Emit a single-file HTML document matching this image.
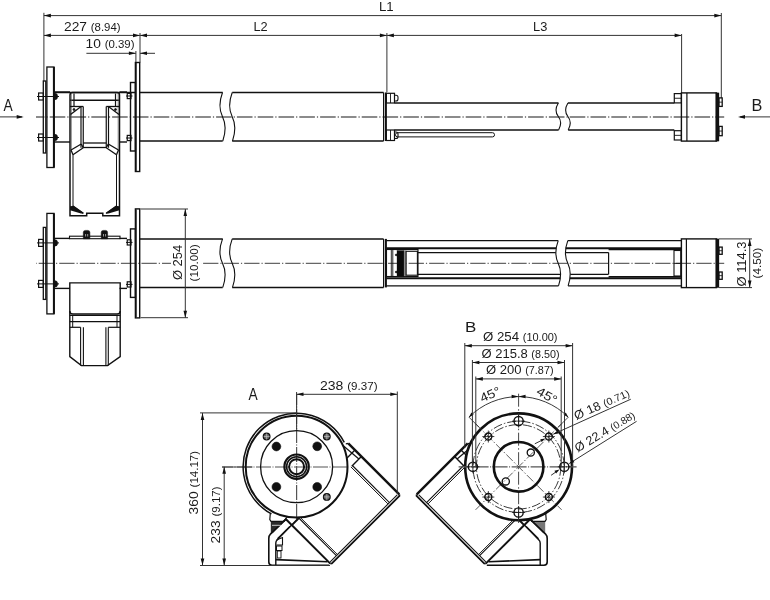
<!DOCTYPE html>
<html><head><meta charset="utf-8"><style>
html,body{margin:0;padding:0;background:#fff;}
svg{display:block;will-change:transform;font-family:"Liberation Sans",sans-serif;}
</style></head><body>
<svg width="770" height="600" viewBox="0 0 770 600" stroke-linecap="butt">
<line x1="43.90" y1="12.80" x2="43.90" y2="81.00" stroke="#333" stroke-width="1.0" />
<line x1="721.30" y1="13.00" x2="721.30" y2="98.00" stroke="#333" stroke-width="1.0" />
<line x1="43.90" y1="15.60" x2="721.30" y2="15.60" stroke="#333" stroke-width="1.0" />
<polygon points="43.90,15.60 50.90,13.80 50.90,17.40" fill="#111"/>
<polygon points="721.30,15.60 714.30,17.40 714.30,13.80" fill="#111"/>
<line x1="43.90" y1="35.40" x2="681.30" y2="35.40" stroke="#333" stroke-width="1.0" />
<polygon points="43.90,35.40 50.90,33.60 50.90,37.20" fill="#111"/>
<polygon points="140.00,35.40 133.00,37.20 133.00,33.60" fill="#111"/>
<polygon points="140.00,35.40 147.00,33.60 147.00,37.20" fill="#111"/>
<polygon points="386.90,35.40 379.90,37.20 379.90,33.60" fill="#111"/>
<polygon points="386.90,35.40 393.90,33.60 393.90,37.20" fill="#111"/>
<polygon points="681.60,35.40 674.60,37.20 674.60,33.60" fill="#111"/>
<line x1="140.00" y1="33.00" x2="140.00" y2="62.50" stroke="#333" stroke-width="1.0" />
<line x1="386.90" y1="33.00" x2="386.90" y2="92.00" stroke="#333" stroke-width="1.0" />
<line x1="681.60" y1="34.00" x2="681.60" y2="93.00" stroke="#333" stroke-width="1.0" />
<line x1="86.40" y1="53.30" x2="135.90" y2="53.30" stroke="#333" stroke-width="1.0" />
<polygon points="135.90,53.30 128.90,55.10 128.90,51.50" fill="#111"/>
<line x1="140.00" y1="53.30" x2="155.00" y2="53.30" stroke="#333" stroke-width="1.0" />
<polygon points="140.00,53.30 147.00,51.50 147.00,55.10" fill="#111"/>
<line x1="135.90" y1="51.00" x2="135.90" y2="62.50" stroke="#333" stroke-width="1.0" />
<line x1="0.00" y1="116.90" x2="22.00" y2="116.90" stroke="#333" stroke-width="1.0" />
<polygon points="23.70,116.90 16.70,118.70 16.70,115.10" fill="#111"/>
<line x1="740.00" y1="116.90" x2="770.00" y2="116.90" stroke="#333" stroke-width="1.0" />
<polygon points="738.00,116.90 745.00,115.10 745.00,118.70" fill="#111"/>
<line x1="36.00" y1="117.00" x2="724.20" y2="117.00" stroke="#666" stroke-width="1.3" stroke-dasharray="15.6 2 1.2 2" stroke-dashoffset="7.1"/>
<rect x="46.90" y="67.00" width="7.10" height="100.50" stroke="#111" stroke-width="1.3" fill="none" rx="0"/>
<line x1="53.90" y1="67.00" x2="53.90" y2="167.50" stroke="#111" stroke-width="2.0" />
<rect x="43.30" y="81.00" width="2.50" height="72.00" stroke="#111" stroke-width="1.3" fill="none" rx="0"/>
<rect x="38.60" y="93.00" width="4.70" height="7.00" stroke="#111" stroke-width="1.2" fill="none" rx="0"/>
<line x1="37.00" y1="96.50" x2="59.00" y2="96.50" stroke="#111" stroke-width="1.0" />
<path d="M54,93.3 h1 a2.6,3.2 0 0 1 0,6.4 h-1 Z" stroke="#111" stroke-width="0.6" fill="#111" />
<rect x="38.60" y="134.00" width="4.70" height="7.00" stroke="#111" stroke-width="1.2" fill="none" rx="0"/>
<line x1="37.00" y1="137.50" x2="59.00" y2="137.50" stroke="#111" stroke-width="1.0" />
<path d="M54,134.3 h1 a2.6,3.2 0 0 1 0,6.4 h-1 Z" stroke="#111" stroke-width="0.6" fill="#111" />
<line x1="54.00" y1="92.00" x2="70.00" y2="92.00" stroke="#111" stroke-width="1.4" />
<line x1="54.00" y1="142.00" x2="70.00" y2="142.00" stroke="#111" stroke-width="1.4" />
<line x1="119.50" y1="92.00" x2="127.00" y2="92.00" stroke="#111" stroke-width="1.4" />
<line x1="119.50" y1="142.00" x2="127.00" y2="142.00" stroke="#111" stroke-width="1.4" />
<rect x="135.40" y="62.50" width="4.30" height="109.00" stroke="#111" stroke-width="1.4" fill="none" rx="0"/>
<line x1="136.40" y1="63.00" x2="136.40" y2="171.00" stroke="#111" stroke-width="0.8" />
<rect x="130.50" y="82.50" width="4.90" height="68.50" stroke="#111" stroke-width="1.4" fill="none" rx="0"/>
<rect x="127.25" y="93.40" width="3.75" height="5.20" stroke="#111" stroke-width="1.2" fill="none" rx="0"/>
<line x1="126.00" y1="96.00" x2="132.50" y2="96.00" stroke="#111" stroke-width="1.0" />
<rect x="127.25" y="135.40" width="3.75" height="5.20" stroke="#111" stroke-width="1.2" fill="none" rx="0"/>
<line x1="126.00" y1="138.00" x2="132.50" y2="138.00" stroke="#111" stroke-width="1.0" />
<line x1="139.70" y1="92.50" x2="222.70" y2="92.50" stroke="#111" stroke-width="1.5" />
<line x1="232.20" y1="92.50" x2="383.60" y2="92.50" stroke="#111" stroke-width="1.5" />
<line x1="139.70" y1="141.00" x2="222.70" y2="141.00" stroke="#111" stroke-width="1.5" />
<line x1="232.20" y1="141.00" x2="383.60" y2="141.00" stroke="#111" stroke-width="1.5" />
<path d="M222.50,92.50 C218.90,102.20 218.90,109.47 222.50,116.75 S226.10,131.30 222.80,141.00" stroke="#111" stroke-width="1.1" fill="none" />
<path d="M232.20,92.50 C228.60,102.20 228.60,109.47 232.20,116.75 S235.80,131.30 232.50,141.00" stroke="#111" stroke-width="1.1" fill="none" />
<line x1="383.60" y1="92.50" x2="383.60" y2="141.00" stroke="#111" stroke-width="1.2" />
<line x1="385.90" y1="92.50" x2="385.90" y2="141.00" stroke="#111" stroke-width="2.0" />
<path d="M102.8,213.3 V215.8 H119.5 V95 q0,-2.5 -2.5,-2.5 H72.5 q-2.5,0 -2.5,2.5 V215.8 H86.7 V213.3 Z" stroke="#111" stroke-width="1.5" fill="none" />
<line x1="54.00" y1="92.50" x2="135.00" y2="92.50" stroke="#111" stroke-width="1.6" />
<line x1="70.00" y1="100.25" x2="119.50" y2="100.25" stroke="#111" stroke-width="1.3" />
<line x1="74.00" y1="93.50" x2="74.00" y2="106.50" stroke="#111" stroke-width="1.2" />
<line x1="115.50" y1="93.50" x2="115.50" y2="106.50" stroke="#111" stroke-width="1.2" />
<line x1="71.30" y1="93.50" x2="71.30" y2="150.00" stroke="#555" stroke-width="0.7" />
<line x1="118.20" y1="93.50" x2="118.20" y2="150.00" stroke="#555" stroke-width="0.7" />
<line x1="70.00" y1="106.50" x2="83.25" y2="106.50" stroke="#111" stroke-width="1.3" />
<line x1="106.25" y1="106.50" x2="119.50" y2="106.50" stroke="#111" stroke-width="1.3" />
<line x1="81.00" y1="106.50" x2="81.00" y2="147.75" stroke="#111" stroke-width="1.2" />
<line x1="108.50" y1="106.50" x2="108.50" y2="147.75" stroke="#111" stroke-width="1.2" />
<line x1="83.25" y1="106.50" x2="83.25" y2="147.75" stroke="#111" stroke-width="1.2" />
<line x1="106.25" y1="106.50" x2="106.25" y2="147.75" stroke="#111" stroke-width="1.2" />
<line x1="83.25" y1="143.00" x2="106.25" y2="143.00" stroke="#111" stroke-width="1.3" />
<line x1="83.25" y1="147.50" x2="106.25" y2="147.50" stroke="#111" stroke-width="1.3" />
<line x1="70.50" y1="114.50" x2="80.75" y2="106.75" stroke="#111" stroke-width="1.3" />
<line x1="119.00" y1="114.50" x2="108.75" y2="106.75" stroke="#111" stroke-width="1.3" />
<line x1="71.00" y1="150.00" x2="81.25" y2="144.00" stroke="#111" stroke-width="1.3" />
<line x1="118.50" y1="150.00" x2="108.25" y2="144.00" stroke="#111" stroke-width="1.3" />
<line x1="73.00" y1="154.75" x2="83.25" y2="147.75" stroke="#111" stroke-width="1.3" />
<line x1="116.50" y1="154.75" x2="106.25" y2="147.75" stroke="#111" stroke-width="1.3" />
<line x1="81.25" y1="144.00" x2="83.25" y2="147.75" stroke="#111" stroke-width="1.3" />
<line x1="108.25" y1="144.00" x2="106.25" y2="147.75" stroke="#111" stroke-width="1.3" />
<line x1="71.00" y1="150.00" x2="73.00" y2="154.75" stroke="#111" stroke-width="1.3" />
<line x1="118.50" y1="150.00" x2="116.50" y2="154.75" stroke="#111" stroke-width="1.3" />
<circle cx="74.00" cy="109.50" r="1.00" stroke="#111" stroke-width="0.8" fill="#111" />
<circle cx="115.50" cy="109.50" r="1.00" stroke="#111" stroke-width="0.8" fill="#111" />
<line x1="73.00" y1="154.75" x2="73.00" y2="206.00" stroke="#111" stroke-width="1.0" />
<line x1="116.50" y1="154.75" x2="116.50" y2="206.00" stroke="#111" stroke-width="1.0" />
<line x1="73.00" y1="206.00" x2="83.30" y2="213.30" stroke="#111" stroke-width="1.5" />
<line x1="116.50" y1="206.00" x2="106.20" y2="213.30" stroke="#111" stroke-width="1.5" />
<polygon points="70.00,206.5 73.30,205.8 84.00,213.3 81.00,213.6 70.00,210.3" fill="#111"/>
<line x1="70.00" y1="207.00" x2="73.30" y2="207.00" stroke="#111" stroke-width="1.0" />
<polygon points="119.50,206.5 116.20,205.8 105.50,213.3 108.50,213.6 119.50,210.3" fill="#111"/>
<line x1="119.50" y1="207.00" x2="116.20" y2="207.00" stroke="#111" stroke-width="1.0" />
<rect x="386.40" y="93.30" width="8.10" height="9.70" stroke="#111" stroke-width="1.2" fill="none" rx="0"/>
<line x1="390.50" y1="93.30" x2="390.50" y2="103.00" stroke="#111" stroke-width="0.9" />
<path d="M394.5,95.3 h1.5 a2,2 0 0 1 2,2 v1.7000000000000028 a2,2 0 0 1 -2,2 h-1.5" stroke="#111" stroke-width="1.1" fill="none" />
<rect x="386.40" y="130.00" width="8.10" height="10.50" stroke="#111" stroke-width="1.2" fill="none" rx="0"/>
<line x1="390.50" y1="130.00" x2="390.50" y2="140.50" stroke="#111" stroke-width="0.9" />
<path d="M394.5,132 h1.5 a2,2 0 0 1 2,2 v2.5 a2,2 0 0 1 -2,2 h-1.5" stroke="#111" stroke-width="1.1" fill="none" />
<line x1="394.50" y1="103.00" x2="558.50" y2="103.00" stroke="#111" stroke-width="1.4" />
<line x1="567.90" y1="103.00" x2="674.30" y2="103.00" stroke="#111" stroke-width="1.4" />
<line x1="394.50" y1="130.00" x2="558.60" y2="130.00" stroke="#111" stroke-width="1.4" />
<line x1="568.20" y1="130.00" x2="674.30" y2="130.00" stroke="#111" stroke-width="1.4" />
<path d="M558.30,103.00 C555.10,108.40 555.10,112.45 558.30,116.50 S561.50,124.60 558.60,130.00" stroke="#111" stroke-width="1.1" fill="none" />
<path d="M567.90,103.00 C564.70,108.40 564.70,112.45 567.90,116.50 S571.10,124.60 568.20,130.00" stroke="#111" stroke-width="1.1" fill="none" />
<rect x="395.50" y="132.70" width="99.00" height="4.20" stroke="#111" stroke-width="1.0" fill="none" rx="2"/>
<rect x="681.40" y="92.90" width="35.10" height="48.20" stroke="#111" stroke-width="1.4" fill="none" rx="0"/>
<rect x="715.80" y="92.90" width="3.20" height="48.20" stroke="#111" stroke-width="0.3" fill="#111" rx="0"/>
<line x1="686.90" y1="92.90" x2="686.90" y2="141.10" stroke="#111" stroke-width="1.2" />
<rect x="674.30" y="93.60" width="7.10" height="9.30" stroke="#111" stroke-width="1.2" fill="none" rx="0"/>
<line x1="674.30" y1="98.25" x2="681.40" y2="98.25" stroke="#111" stroke-width="0.9" />
<rect x="674.30" y="130.70" width="7.10" height="9.30" stroke="#111" stroke-width="1.2" fill="none" rx="0"/>
<line x1="674.30" y1="135.35" x2="681.40" y2="135.35" stroke="#111" stroke-width="0.9" />
<rect x="719.00" y="97.90" width="3.20" height="8.50" stroke="#111" stroke-width="1.3" fill="none" rx="0"/>
<line x1="719.00" y1="102.15" x2="722.20" y2="102.15" stroke="#111" stroke-width="0.8" />
<rect x="719.00" y="126.40" width="3.20" height="9.30" stroke="#111" stroke-width="1.3" fill="none" rx="0"/>
<line x1="719.00" y1="131.05" x2="722.20" y2="131.05" stroke="#111" stroke-width="0.8" />
<line x1="36.00" y1="263.40" x2="724.20" y2="263.40" stroke="#666" stroke-width="1.3" stroke-dasharray="15.3 2 1.2 2.05" stroke-dashoffset="17.85"/>
<rect x="46.90" y="213.40" width="7.10" height="100.50" stroke="#111" stroke-width="1.3" fill="none" rx="0"/>
<line x1="53.90" y1="213.40" x2="53.90" y2="313.90" stroke="#111" stroke-width="2.0" />
<rect x="43.30" y="227.40" width="2.50" height="72.00" stroke="#111" stroke-width="1.3" fill="none" rx="0"/>
<rect x="38.60" y="239.40" width="4.70" height="7.00" stroke="#111" stroke-width="1.2" fill="none" rx="0"/>
<line x1="37.00" y1="242.90" x2="59.00" y2="242.90" stroke="#111" stroke-width="1.0" />
<path d="M54,239.7 h1 a2.6,3.2 0 0 1 0,6.4 h-1 Z" stroke="#111" stroke-width="0.6" fill="#111" />
<rect x="38.60" y="280.40" width="4.70" height="7.00" stroke="#111" stroke-width="1.2" fill="none" rx="0"/>
<line x1="37.00" y1="283.90" x2="59.00" y2="283.90" stroke="#111" stroke-width="1.0" />
<path d="M54,280.7 h1 a2.6,3.2 0 0 1 0,6.4 h-1 Z" stroke="#111" stroke-width="0.6" fill="#111" />
<line x1="54.00" y1="238.40" x2="70.00" y2="238.40" stroke="#111" stroke-width="1.4" />
<line x1="54.00" y1="288.40" x2="70.00" y2="288.40" stroke="#111" stroke-width="1.4" />
<line x1="119.50" y1="238.40" x2="127.00" y2="238.40" stroke="#111" stroke-width="1.4" />
<line x1="119.50" y1="288.40" x2="127.00" y2="288.40" stroke="#111" stroke-width="1.4" />
<rect x="135.40" y="208.90" width="4.30" height="109.00" stroke="#111" stroke-width="1.4" fill="none" rx="0"/>
<line x1="136.40" y1="209.40" x2="136.40" y2="317.40" stroke="#111" stroke-width="0.8" />
<rect x="130.50" y="228.90" width="4.90" height="68.50" stroke="#111" stroke-width="1.4" fill="none" rx="0"/>
<rect x="127.25" y="239.80" width="3.75" height="5.20" stroke="#111" stroke-width="1.2" fill="none" rx="0"/>
<line x1="126.00" y1="242.40" x2="132.50" y2="242.40" stroke="#111" stroke-width="1.0" />
<rect x="127.25" y="281.80" width="3.75" height="5.20" stroke="#111" stroke-width="1.2" fill="none" rx="0"/>
<line x1="126.00" y1="284.40" x2="132.50" y2="284.40" stroke="#111" stroke-width="1.0" />
<line x1="139.70" y1="238.90" x2="222.70" y2="238.90" stroke="#111" stroke-width="1.5" />
<line x1="232.20" y1="238.90" x2="383.60" y2="238.90" stroke="#111" stroke-width="1.5" />
<line x1="139.70" y1="287.40" x2="222.70" y2="287.40" stroke="#111" stroke-width="1.5" />
<line x1="232.20" y1="287.40" x2="383.60" y2="287.40" stroke="#111" stroke-width="1.5" />
<path d="M222.50,238.90 C218.90,248.60 218.90,255.87 222.50,263.15 S226.10,277.70 222.80,287.40" stroke="#111" stroke-width="1.1" fill="none" />
<path d="M232.20,238.90 C228.60,248.60 228.60,255.87 232.20,263.15 S235.80,277.70 232.50,287.40" stroke="#111" stroke-width="1.1" fill="none" />
<line x1="383.60" y1="238.90" x2="383.60" y2="287.40" stroke="#111" stroke-width="1.2" />
<line x1="385.90" y1="238.90" x2="385.90" y2="287.40" stroke="#111" stroke-width="2.0" />
<rect x="69.50" y="236.20" width="50.50" height="2.50" stroke="#111" stroke-width="1.1" fill="none" rx="0"/>
<path d="M83.3,238.8 V232.4 q0,-2 2,-2 h2.6000000000000085 q2,0 2,2 V238.8 Z" stroke="#111" stroke-width="0.5" fill="#111" />
<line x1="85.60" y1="234.00" x2="85.60" y2="236.50" stroke="#bbb" stroke-width="0.8" />
<line x1="87.70" y1="234.00" x2="87.70" y2="236.50" stroke="#bbb" stroke-width="0.8" />
<path d="M101.2,238.8 V232.4 q0,-2 2,-2 h2.3999999999999915 q2,0 2,2 V238.8 Z" stroke="#111" stroke-width="0.5" fill="#111" />
<line x1="103.50" y1="234.00" x2="103.50" y2="236.50" stroke="#bbb" stroke-width="0.8" />
<line x1="105.60" y1="234.00" x2="105.60" y2="236.50" stroke="#bbb" stroke-width="0.8" />
<path d="M69.8,282.9 H120.2 V311 q0,3 -3,3 H72.8 q-3,0 -3,-3 Z" stroke="#111" stroke-width="1.4" fill="none" />
<path d="M69.8,311 V356.6 L81.4,365.6 H107.5 L120.2,356.6 V311" stroke="#111" stroke-width="1.4" fill="none" />
<line x1="69.80" y1="315.40" x2="120.20" y2="315.40" stroke="#111" stroke-width="1.2" />
<line x1="69.80" y1="321.70" x2="120.20" y2="321.70" stroke="#111" stroke-width="1.2" />
<line x1="72.70" y1="315.40" x2="72.70" y2="327.30" stroke="#111" stroke-width="1.0" />
<line x1="117.00" y1="315.40" x2="117.00" y2="327.30" stroke="#111" stroke-width="1.0" />
<line x1="69.80" y1="327.30" x2="80.60" y2="327.30" stroke="#111" stroke-width="1.2" />
<line x1="108.30" y1="327.30" x2="120.20" y2="327.30" stroke="#111" stroke-width="1.2" />
<line x1="80.60" y1="327.30" x2="80.60" y2="365.60" stroke="#111" stroke-width="1.1" />
<line x1="83.40" y1="327.30" x2="83.40" y2="365.60" stroke="#111" stroke-width="1.1" />
<line x1="105.90" y1="327.30" x2="105.90" y2="365.60" stroke="#111" stroke-width="1.1" />
<line x1="108.30" y1="327.30" x2="108.30" y2="365.60" stroke="#111" stroke-width="1.1" />
<line x1="83.40" y1="327.30" x2="83.40" y2="327.30" stroke="#111" stroke-width="1.4" />
<line x1="386.20" y1="240.60" x2="558.20" y2="240.60" stroke="#111" stroke-width="1.3" />
<line x1="567.80" y1="240.60" x2="681.40" y2="240.60" stroke="#111" stroke-width="1.3" />
<line x1="386.20" y1="285.90" x2="558.50" y2="285.90" stroke="#111" stroke-width="1.3" />
<line x1="568.10" y1="285.90" x2="681.40" y2="285.90" stroke="#111" stroke-width="1.3" />
<line x1="386.20" y1="248.30" x2="556.10" y2="248.30" stroke="#111" stroke-width="2.0" />
<line x1="565.70" y1="248.30" x2="681.40" y2="248.30" stroke="#111" stroke-width="2.0" />
<line x1="386.20" y1="278.30" x2="560.38" y2="278.30" stroke="#111" stroke-width="2.0" />
<line x1="569.98" y1="278.30" x2="681.40" y2="278.30" stroke="#111" stroke-width="2.0" />
<line x1="418.00" y1="252.60" x2="555.73" y2="252.60" stroke="#111" stroke-width="1.2" />
<line x1="565.33" y1="252.60" x2="608.60" y2="252.60" stroke="#111" stroke-width="1.2" />
<line x1="418.00" y1="274.30" x2="560.71" y2="274.30" stroke="#111" stroke-width="1.2" />
<line x1="570.31" y1="274.30" x2="608.60" y2="274.30" stroke="#111" stroke-width="1.2" />
<line x1="608.60" y1="252.60" x2="608.60" y2="274.30" stroke="#111" stroke-width="1.2" />
<line x1="608.60" y1="249.60" x2="681.40" y2="249.60" stroke="#111" stroke-width="1.4" />
<line x1="608.60" y1="276.80" x2="681.40" y2="276.80" stroke="#111" stroke-width="1.4" />
<path d="M558.20,240.60 C554.90,249.66 554.90,256.45 558.20,263.25 S561.50,276.84 558.50,285.90" stroke="#111" stroke-width="1.1" fill="none" />
<path d="M567.80,240.60 C564.50,249.66 564.50,256.45 567.80,263.25 S571.10,276.84 568.10,285.90" stroke="#111" stroke-width="1.1" fill="none" />
<rect x="386.50" y="249.50" width="31.50" height="27.00" stroke="#111" stroke-width="1.1" fill="none" rx="0"/>
<line x1="391.30" y1="249.50" x2="391.30" y2="276.50" stroke="#111" stroke-width="0.9" />
<line x1="392.80" y1="249.50" x2="392.80" y2="276.50" stroke="#111" stroke-width="0.9" />
<rect x="397.00" y="250.50" width="7.00" height="25.50" stroke="#111" stroke-width="0.3" fill="#0a0a0a" rx="0"/>
<rect x="404.00" y="250.50" width="2.10" height="25.50" stroke="#888" stroke-width="0.2" fill="#888" rx="0"/>
<rect x="406.10" y="251.30" width="11.30" height="23.90" stroke="#111" stroke-width="1.1" fill="none" rx="0"/>
<circle cx="396.20" cy="254.90" r="0.90" stroke="#111" stroke-width="0.6" fill="#111" />
<circle cx="396.20" cy="272.00" r="0.90" stroke="#111" stroke-width="0.6" fill="#111" />
<rect x="674.00" y="250.50" width="6.75" height="25.50" stroke="#111" stroke-width="1.1" fill="none" rx="0"/>
<line x1="674.00" y1="263.40" x2="680.75" y2="263.40" stroke="#111" stroke-width="0.9" />
<rect x="681.40" y="238.90" width="35.10" height="48.70" stroke="#111" stroke-width="1.4" fill="none" rx="0"/>
<rect x="715.80" y="238.90" width="3.20" height="48.70" stroke="#111" stroke-width="0.3" fill="#111" rx="0"/>
<line x1="686.40" y1="238.90" x2="686.40" y2="287.60" stroke="#111" stroke-width="1.2" />
<rect x="719.00" y="247.10" width="3.20" height="7.20" stroke="#111" stroke-width="1.3" fill="none" rx="0"/>
<line x1="719.00" y1="250.70" x2="722.20" y2="250.70" stroke="#111" stroke-width="0.8" />
<rect x="719.00" y="272.00" width="3.20" height="7.30" stroke="#111" stroke-width="1.3" fill="none" rx="0"/>
<line x1="719.00" y1="275.65" x2="722.20" y2="275.65" stroke="#111" stroke-width="0.8" />
<line x1="140.50" y1="209.00" x2="188.00" y2="209.00" stroke="#333" stroke-width="1.0" />
<line x1="140.50" y1="317.70" x2="188.00" y2="317.70" stroke="#333" stroke-width="1.0" />
<rect x="171.00" y="243.00" width="30.00" height="40.00" stroke="none" stroke-width="0" fill="#fff" rx="0"/>
<line x1="185.30" y1="209.00" x2="185.30" y2="317.70" stroke="#333" stroke-width="1.0" />
<polygon points="185.30,209.00 187.10,216.00 183.50,216.00" fill="#111"/>
<polygon points="185.30,317.70 183.50,310.70 187.10,310.70" fill="#111"/>
<line x1="719.00" y1="238.90" x2="752.00" y2="238.90" stroke="#333" stroke-width="1.0" />
<line x1="719.00" y1="287.60" x2="752.00" y2="287.60" stroke="#333" stroke-width="1.0" />
<line x1="749.70" y1="238.90" x2="749.70" y2="287.60" stroke="#333" stroke-width="1.0" />
<polygon points="749.70,238.90 751.50,245.90 747.90,245.90" fill="#111"/>
<polygon points="749.70,287.60 747.90,280.60 751.50,280.60" fill="#111"/>
<text x="379.00" y="11.00" font-size="12.3" textLength="14.68" lengthAdjust="spacingAndGlyphs" fill="#1a1a1a">L1</text>
<text x="64.00" y="30.50" font-size="12.3" textLength="56.54" lengthAdjust="spacingAndGlyphs" fill="#1a1a1a">227 <tspan font-size="10.2">(8.94)</tspan></text>
<text x="253.50" y="31.00" font-size="12.3" textLength="14.20" lengthAdjust="spacingAndGlyphs" fill="#1a1a1a">L2</text>
<text x="533.00" y="30.50" font-size="12.3" textLength="14.27" lengthAdjust="spacingAndGlyphs" fill="#1a1a1a">L3</text>
<text x="85.50" y="48.00" font-size="12.3" textLength="49.03" lengthAdjust="spacingAndGlyphs" fill="#1a1a1a">10 <tspan font-size="10.2">(0.39)</tspan></text>
<text x="3.50" y="111.00" font-size="16" textLength="9.17" lengthAdjust="spacingAndGlyphs" fill="#1a1a1a">A</text>
<text x="751.50" y="110.50" font-size="16" textLength="10.83" lengthAdjust="spacingAndGlyphs" fill="#1a1a1a">B</text>
<text x="465.00" y="331.50" font-size="15" textLength="11.32" lengthAdjust="spacingAndGlyphs" fill="#1a1a1a">B</text>
<text x="483.00" y="340.50" font-size="12.3" textLength="74.51" lengthAdjust="spacingAndGlyphs" fill="#1a1a1a">Ø 254 <tspan font-size="10.2">(10.00)</tspan></text>
<text x="481.50" y="357.50" font-size="12.3" textLength="78.02" lengthAdjust="spacingAndGlyphs" fill="#1a1a1a">Ø 215.8 <tspan font-size="10.2">(8.50)</tspan></text>
<text x="486.00" y="374.00" font-size="12.3" textLength="67.53" lengthAdjust="spacingAndGlyphs" fill="#1a1a1a">Ø 200 <tspan font-size="10.2">(7.87)</tspan></text>
<text x="248.50" y="399.50" font-size="16" textLength="9.17" lengthAdjust="spacingAndGlyphs" fill="#1a1a1a">A</text>
<text x="320.00" y="390.00" font-size="12.3" textLength="57.56" lengthAdjust="spacingAndGlyphs" fill="#1a1a1a">238 <tspan font-size="10.2">(9.37)</tspan></text>
<text x="181.50" y="280.00" font-size="12.3" textLength="35.07" lengthAdjust="spacingAndGlyphs" fill="#1a1a1a" transform="rotate(-90 181.50 280.00)">Ø 254</text>
<text x="197.50" y="281.50" font-size="10.2" textLength="37.09" lengthAdjust="spacingAndGlyphs" fill="#1a1a1a" transform="rotate(-90 197.50 281.50)">(10.00)</text>
<text x="746.00" y="286.50" font-size="12.3" textLength="45.02" lengthAdjust="spacingAndGlyphs" fill="#1a1a1a" transform="rotate(-90 746.00 286.50)">Ø 114.3</text>
<text x="761.00" y="278.50" font-size="10.2" textLength="30.58" lengthAdjust="spacingAndGlyphs" fill="#1a1a1a" transform="rotate(-90 761.00 278.50)">(4.50)</text>
<text x="198.00" y="514.50" font-size="12.3" textLength="63.53" lengthAdjust="spacingAndGlyphs" fill="#1a1a1a" transform="rotate(-90 198.00 514.50)">360 <tspan font-size="10.2">(14.17)</tspan></text>
<text x="219.50" y="543.50" font-size="12.3" textLength="57.03" lengthAdjust="spacingAndGlyphs" fill="#1a1a1a" transform="rotate(-90 219.50 543.50)">233 <tspan font-size="10.2">(9.17)</tspan></text>
<line x1="222.00" y1="467.00" x2="347.00" y2="467.00" stroke="#555" stroke-width="1.2" stroke-dasharray="15 1.5 1 1.5" stroke-dashoffset="4"/>
<line x1="222.00" y1="467.00" x2="252.50" y2="467.00" stroke="#444" stroke-width="1.0" />
<line x1="296.60" y1="394.00" x2="296.60" y2="521.00" stroke="#555" stroke-width="1.2" stroke-dasharray="15 1.5 1 1.5" stroke-dashoffset="4"/>
<circle cx="296.60" cy="466.70" r="50.90" stroke="#111" stroke-width="2.0" fill="none" />
<path d="M271.48,513.94 A53.5,53.5 0 1 1 344.27,442.41" stroke="#111" stroke-width="1.5" fill="none" />
<circle cx="296.60" cy="466.70" r="36.00" stroke="#111" stroke-width="1.3" fill="none" />
<circle cx="296.60" cy="466.70" r="12.20" stroke="#111" stroke-width="2.2" fill="none" />
<circle cx="296.60" cy="466.70" r="10.00" stroke="#111" stroke-width="1.5" fill="none" />
<circle cx="296.60" cy="466.70" r="7.50" stroke="#111" stroke-width="2.0" fill="none" />
<circle cx="276.40" cy="446.50" r="4.40" stroke="#111" stroke-width="0.6" fill="#111" />
<circle cx="317.20" cy="446.30" r="4.40" stroke="#111" stroke-width="0.6" fill="#111" />
<circle cx="276.40" cy="486.90" r="4.40" stroke="#111" stroke-width="0.6" fill="#111" />
<circle cx="317.20" cy="486.90" r="4.40" stroke="#111" stroke-width="0.6" fill="#111" />
<circle cx="266.60" cy="436.50" r="3.30" stroke="#111" stroke-width="1.3" fill="#666" />
<line x1="263.60" y1="436.50" x2="269.60" y2="436.50" stroke="#ccc" stroke-width="0.6" />
<line x1="266.60" y1="433.50" x2="266.60" y2="439.50" stroke="#ccc" stroke-width="0.6" />
<circle cx="326.80" cy="436.50" r="3.30" stroke="#111" stroke-width="1.3" fill="#666" />
<line x1="323.80" y1="436.50" x2="329.80" y2="436.50" stroke="#ccc" stroke-width="0.6" />
<line x1="326.80" y1="433.50" x2="326.80" y2="439.50" stroke="#ccc" stroke-width="0.6" />
<circle cx="326.80" cy="496.90" r="3.30" stroke="#111" stroke-width="1.3" fill="#666" />
<line x1="323.80" y1="496.90" x2="329.80" y2="496.90" stroke="#ccc" stroke-width="0.6" />
<line x1="326.80" y1="493.90" x2="326.80" y2="499.90" stroke="#ccc" stroke-width="0.6" />
<line x1="348.29" y1="443.44" x2="399.27" y2="494.42" stroke="#111" stroke-width="2.4" />
<line x1="352.39" y1="465.50" x2="389.44" y2="502.55" stroke="#111" stroke-width="1.1" />
<line x1="350.98" y1="466.91" x2="388.03" y2="503.96" stroke="#111" stroke-width="1.0" />
<line x1="299.07" y1="518.25" x2="336.41" y2="555.58" stroke="#111" stroke-width="1.1" />
<line x1="300.14" y1="517.19" x2="337.47" y2="554.52" stroke="#111" stroke-width="0.9" />
<line x1="286.21" y1="519.52" x2="330.33" y2="563.64" stroke="#111" stroke-width="2.0" />
<polyline points="399.27,494.42 399.41,495.97 331.88,563.50 330.33,563.64" fill="none" stroke="#111" stroke-width="1.8"/>
<line x1="397.22" y1="494.77" x2="330.19" y2="561.81" stroke="#111" stroke-width="1.1" />
<line x1="351.75" y1="466.13" x2="361.37" y2="456.52" stroke="#111" stroke-width="1.4" />
<line x1="292.00" y1="525.32" x2="299.07" y2="518.25" stroke="#111" stroke-width="1.4" />
<line x1="343.27" y1="445.77" x2="358.90" y2="458.99" stroke="#111" stroke-width="1.2" />
<line x1="346.80" y1="458.21" x2="354.94" y2="450.08" stroke="#111" stroke-width="1.3" />
<line x1="345.81" y1="443.79" x2="348.29" y2="443.44" stroke="#111" stroke-width="1.3" />
<line x1="286.21" y1="518.53" x2="272.06" y2="532.67" stroke="#111" stroke-width="1.4" />
<line x1="289.88" y1="526.45" x2="277.51" y2="538.82" stroke="#111" stroke-width="1.4" />
<polygon points="270.8,521.4 283.6,521.4 270.8,533.8" fill="#2a2a2a"/>
<path d="M270.3,513.5 L269.8,519.5 L271,521.4 H284.2 L286.8,517.2" stroke="#111" stroke-width="1.2" fill="none" />
<path d="M286.6,518.6 L270.4,534.2 Q268.8,535.8 268.8,538.5 V562 Q268.8,565.2 272,565.2 H329.2" stroke="#111" stroke-width="1.6" fill="none" />
<path d="M299.2,517.3 L277.3,539.8 Q275.8,541.3 275.8,543 V565" stroke="#111" stroke-width="1.4" fill="none" />
<line x1="275.80" y1="559.60" x2="327.50" y2="561.80" stroke="#111" stroke-width="1.6" />
<path d="M276.5,540 L282.5,537.5 V545 H276.5" stroke="#111" stroke-width="1.1" fill="none" />
<rect x="276.50" y="546.00" width="5.50" height="4.50" stroke="#111" stroke-width="1.0" fill="none" rx="0"/>
<rect x="277.30" y="551.00" width="3.70" height="7.00" stroke="#111" stroke-width="0.9" fill="none" rx="0"/>
<line x1="272.00" y1="525.30" x2="281.00" y2="525.30" stroke="#ddd" stroke-width="0.9" />
<line x1="296.50" y1="394.30" x2="397.30" y2="394.30" stroke="#333" stroke-width="1.0" />
<polygon points="296.50,394.30 303.50,392.50 303.50,396.10" fill="#111"/>
<polygon points="397.30,394.30 390.30,396.10 390.30,392.50" fill="#111"/>
<line x1="397.30" y1="391.50" x2="397.30" y2="494.00" stroke="#333" stroke-width="1.0" />
<line x1="296.60" y1="392.00" x2="296.60" y2="429.00" stroke="#333" stroke-width="1.0" />
<line x1="200.00" y1="412.90" x2="296.60" y2="412.90" stroke="#333" stroke-width="1.0" />
<line x1="202.50" y1="412.90" x2="202.50" y2="565.50" stroke="#333" stroke-width="1.0" />
<polygon points="202.50,412.90 204.30,419.90 200.70,419.90" fill="#111"/>
<polygon points="202.50,565.50 200.70,558.50 204.30,558.50" fill="#111"/>
<line x1="224.20" y1="466.70" x2="224.20" y2="565.50" stroke="#333" stroke-width="1.0" />
<polygon points="224.20,466.70 226.00,473.70 222.40,473.70" fill="#111"/>
<polygon points="224.20,565.50 222.40,558.50 226.00,558.50" fill="#111"/>
<line x1="200.00" y1="565.50" x2="330.00" y2="565.50" stroke="#333" stroke-width="1.0" />
<g transform="translate(816,0) scale(-1,1)">
<line x1="348.29" y1="443.44" x2="399.27" y2="494.42" stroke="#111" stroke-width="2.4" />
<line x1="352.39" y1="465.50" x2="389.44" y2="502.55" stroke="#111" stroke-width="1.1" />
<line x1="350.98" y1="466.91" x2="388.03" y2="503.96" stroke="#111" stroke-width="1.0" />
<line x1="299.07" y1="518.25" x2="336.41" y2="555.58" stroke="#111" stroke-width="1.1" />
<line x1="300.14" y1="517.19" x2="337.47" y2="554.52" stroke="#111" stroke-width="0.9" />
<line x1="286.21" y1="519.52" x2="330.33" y2="563.64" stroke="#111" stroke-width="2.0" />
<polyline points="399.27,494.42 399.41,495.97 331.88,563.50 330.33,563.64" fill="none" stroke="#111" stroke-width="1.8"/>
<line x1="397.22" y1="494.77" x2="330.19" y2="561.81" stroke="#111" stroke-width="1.1" />
<line x1="351.75" y1="466.13" x2="361.37" y2="456.52" stroke="#111" stroke-width="1.4" />
<line x1="292.00" y1="525.32" x2="299.07" y2="518.25" stroke="#111" stroke-width="1.4" />
<line x1="343.27" y1="445.77" x2="358.90" y2="458.99" stroke="#111" stroke-width="1.2" />
<line x1="346.80" y1="458.21" x2="354.94" y2="450.08" stroke="#111" stroke-width="1.3" />
<line x1="345.81" y1="443.79" x2="348.29" y2="443.44" stroke="#111" stroke-width="1.3" />
<line x1="286.21" y1="518.53" x2="272.06" y2="532.67" stroke="#111" stroke-width="1.4" />
<line x1="289.88" y1="526.45" x2="277.51" y2="538.82" stroke="#111" stroke-width="1.4" />
<polygon points="270.8,521.4 283.6,521.4 270.8,533.8" fill="#777"/>
<path d="M270.3,513.5 L269.8,519.5 L271,521.4 H284.2 L286.8,517.2" stroke="#111" stroke-width="1.2" fill="none" />
<path d="M286.6,518.6 L270.4,534.2 Q268.8,535.8 268.8,538.5 V562 Q268.8,565.2 272,565.2 H329.2" stroke="#111" stroke-width="1.6" fill="none" />
<path d="M299.2,517.3 L277.3,539.8 Q275.8,541.3 275.8,543 V565" stroke="#111" stroke-width="1.4" fill="none" />
<line x1="275.80" y1="559.60" x2="327.50" y2="561.80" stroke="#111" stroke-width="1.6" />
</g>
<circle cx="518.60" cy="466.80" r="53.40" stroke="#111" stroke-width="2.6" fill="#fff" />
<circle cx="518.60" cy="466.80" r="45.60" stroke="#222" stroke-width="0.9" fill="none" stroke-dasharray="9 2 1.5 2"/>
<circle cx="518.60" cy="466.80" r="42.20" stroke="#222" stroke-width="0.9" fill="none" stroke-dasharray="9 2 1.5 2"/>
<line x1="458.60" y1="466.80" x2="576.60" y2="466.80" stroke="#555" stroke-width="1.2" stroke-dasharray="15 1.5 1 1.5" stroke-dashoffset="4"/>
<line x1="518.60" y1="393.70" x2="518.60" y2="523.00" stroke="#333" stroke-width="0.9" stroke-dasharray="13 2.5 1.5 2.5"/>
<line x1="475.60" y1="423.80" x2="561.60" y2="509.80" stroke="#333" stroke-width="0.8" stroke-dasharray="9 2 1.5 2"/>
<line x1="475.60" y1="509.80" x2="561.60" y2="423.80" stroke="#333" stroke-width="0.8" stroke-dasharray="9 2 1.5 2"/>
<circle cx="518.60" cy="466.80" r="24.80" stroke="#111" stroke-width="2.6" fill="none" />
<circle cx="564.30" cy="466.80" r="4.60" stroke="#111" stroke-width="1.4" fill="none" />
<line x1="557.80" y1="466.80" x2="570.80" y2="466.80" stroke="#111" stroke-width="0.8" />
<line x1="564.30" y1="460.30" x2="564.30" y2="473.30" stroke="#111" stroke-width="0.8" />
<circle cx="518.60" cy="512.50" r="4.60" stroke="#111" stroke-width="1.4" fill="none" />
<line x1="512.10" y1="512.50" x2="525.10" y2="512.50" stroke="#111" stroke-width="0.8" />
<line x1="518.60" y1="506.00" x2="518.60" y2="519.00" stroke="#111" stroke-width="0.8" />
<circle cx="472.90" cy="466.80" r="4.60" stroke="#111" stroke-width="1.4" fill="none" />
<line x1="466.40" y1="466.80" x2="479.40" y2="466.80" stroke="#111" stroke-width="0.8" />
<line x1="472.90" y1="460.30" x2="472.90" y2="473.30" stroke="#111" stroke-width="0.8" />
<circle cx="518.60" cy="421.10" r="4.60" stroke="#111" stroke-width="1.4" fill="none" />
<line x1="512.10" y1="421.10" x2="525.10" y2="421.10" stroke="#111" stroke-width="0.8" />
<line x1="518.60" y1="414.60" x2="518.60" y2="427.60" stroke="#111" stroke-width="0.8" />
<circle cx="548.86" cy="497.06" r="3.50" stroke="#111" stroke-width="1.4" fill="none" />
<line x1="542.86" y1="497.06" x2="554.86" y2="497.06" stroke="#111" stroke-width="0.8" />
<line x1="548.86" y1="491.06" x2="548.86" y2="503.06" stroke="#111" stroke-width="0.8" />
<circle cx="488.34" cy="497.06" r="3.50" stroke="#111" stroke-width="1.4" fill="none" />
<line x1="482.34" y1="497.06" x2="494.34" y2="497.06" stroke="#111" stroke-width="0.8" />
<line x1="488.34" y1="491.06" x2="488.34" y2="503.06" stroke="#111" stroke-width="0.8" />
<circle cx="488.34" cy="436.54" r="3.50" stroke="#111" stroke-width="1.4" fill="none" />
<line x1="482.34" y1="436.54" x2="494.34" y2="436.54" stroke="#111" stroke-width="0.8" />
<line x1="488.34" y1="430.54" x2="488.34" y2="442.54" stroke="#111" stroke-width="0.8" />
<circle cx="548.86" cy="436.54" r="3.50" stroke="#111" stroke-width="1.4" fill="none" />
<line x1="542.86" y1="436.54" x2="554.86" y2="436.54" stroke="#111" stroke-width="0.8" />
<line x1="548.86" y1="430.54" x2="548.86" y2="442.54" stroke="#111" stroke-width="0.8" />
<circle cx="530.80" cy="452.60" r="3.60" stroke="#111" stroke-width="1.3" fill="none" />
<circle cx="505.80" cy="481.40" r="3.60" stroke="#111" stroke-width="1.3" fill="none" />
<path d="M468.96,417.16 A70.2,70.2 0 0 1 568.24,417.16" stroke="#222" stroke-width="0.9" fill="none" />
<polygon points="518.60,396.60 511.57,398.26 511.64,394.66" fill="#111"/>
<polygon points="518.60,396.60 525.56,394.66 525.63,398.26" fill="#111"/>
<polygon points="468.96,417.16 471.37,412.49 473.63,414.76" fill="#111"/>
<polygon points="568.24,417.16 563.57,414.76 565.83,412.49" fill="#111"/>
<line x1="468.96" y1="417.16" x2="478.96" y2="427.16" stroke="#222" stroke-width="0.8" />
<line x1="568.24" y1="417.16" x2="558.24" y2="427.16" stroke="#222" stroke-width="0.8" />
<line x1="464.80" y1="345.70" x2="572.60" y2="345.70" stroke="#333" stroke-width="1.0" />
<polygon points="464.80,345.70 471.80,343.90 471.80,347.50" fill="#111"/>
<polygon points="572.60,345.70 565.60,347.50 565.60,343.90" fill="#111"/>
<line x1="472.40" y1="362.50" x2="564.50" y2="362.50" stroke="#333" stroke-width="1.0" />
<polygon points="472.40,362.50 479.40,360.70 479.40,364.30" fill="#111"/>
<polygon points="564.50,362.50 557.50,364.30 557.50,360.70" fill="#111"/>
<line x1="475.80" y1="378.90" x2="561.20" y2="378.90" stroke="#333" stroke-width="1.0" />
<polygon points="475.80,378.90 482.80,377.10 482.80,380.70" fill="#111"/>
<polygon points="561.20,378.90 554.20,380.70 554.20,377.10" fill="#111"/>
<line x1="464.80" y1="343.00" x2="464.80" y2="448.00" stroke="#333" stroke-width="1.0" />
<line x1="572.60" y1="343.00" x2="572.60" y2="466.00" stroke="#333" stroke-width="1.0" />
<line x1="472.40" y1="360.00" x2="472.40" y2="466.00" stroke="#333" stroke-width="1.0" />
<line x1="564.50" y1="360.00" x2="564.50" y2="466.00" stroke="#333" stroke-width="1.0" />
<line x1="475.80" y1="376.50" x2="475.80" y2="466.00" stroke="#333" stroke-width="1.0" />
<line x1="561.20" y1="376.50" x2="561.20" y2="466.00" stroke="#333" stroke-width="1.0" />
<line x1="553.30" y1="434.20" x2="630.80" y2="399.20" stroke="#333" stroke-width="1.0" />
<line x1="534.80" y1="443.80" x2="543.00" y2="439.70" stroke="#333" stroke-width="1.0" />
<polygon points="545.50,438.60 541.60,442.11 540.28,439.20" fill="#111"/>
<polygon points="553.30,434.20 557.20,430.69 558.52,433.60" fill="#111"/>
<line x1="569.30" y1="463.50" x2="636.60" y2="421.30" stroke="#333" stroke-width="1.0" />
<polygon points="569.30,463.50 572.70,459.50 574.39,462.21" fill="#111"/>
<line x1="551.10" y1="475.30" x2="557.00" y2="471.20" stroke="#333" stroke-width="1.0" />
<polygon points="559.50,469.50 556.10,473.50 554.41,470.79" fill="#111"/>
<text x="352.32" y="620.13" font-size="12.3" textLength="59.38" lengthAdjust="spacingAndGlyphs" fill="#1a1a1a" transform="rotate(-24.3)">Ø 18 <tspan font-size="10.2">(0.71)</tspan></text>
<text x="259.88" y="686.42" font-size="12.3" textLength="67.87" lengthAdjust="spacingAndGlyphs" fill="#1a1a1a" transform="rotate(-31.2)">Ø 22.4 <tspan font-size="10.2">(0.88)</tspan></text>
<text x="276.88" y="563.94" font-size="12.3" textLength="20.97" lengthAdjust="spacingAndGlyphs" fill="#1a1a1a" transform="rotate(-24)">45°</text>
<text x="660.67" y="73.32" font-size="12.3" textLength="21.76" lengthAdjust="spacingAndGlyphs" fill="#1a1a1a" transform="rotate(30)">45°</text>
</svg></body></html>
